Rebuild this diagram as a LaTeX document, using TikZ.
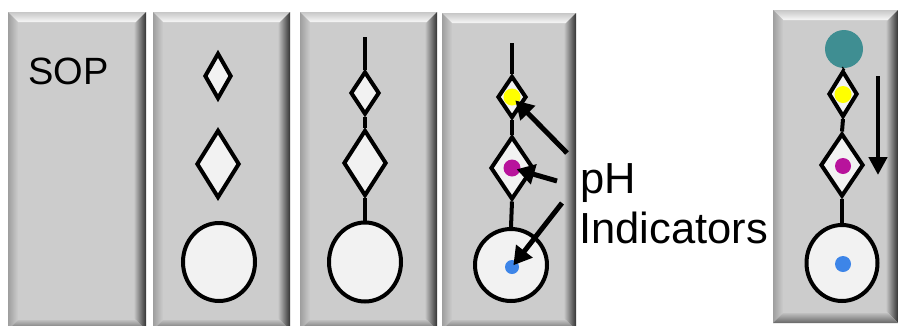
\documentclass[tikz,border=0pt]{standalone}
\usepackage{fontspec}
\setmainfont{Liberation Sans}
\usetikzlibrary{shapes.geometric,arrows.meta}
\definecolor{panelgray}{HTML}{CCCCCC}
\definecolor{shapefill}{HTML}{F2F2F2}
\definecolor{tealc}{HTML}{3F8E92}
\definecolor{magc}{HTML}{B8139C}
\definecolor{bluec}{HTML}{3D85E8}
\definecolor{yelc}{HTML}{FFFF00}
\newcommand\bevpanel[4]{%
  \fill[panelgray] (#1,#2) rectangle (#3,#4);
  \shade[top color=black!22, bottom color=black!3]
    (#1,#2) -- (#3,#2) -- ({#3-10},{#2+10}) -- ({#1+10},{#2+10}) -- cycle;
  \shade[left color=black!38, right color=black!20]
    (#1,#2) -- ({#1+10},{#2+10}) -- ({#1+10},{#4-10}) -- (#1,#4) -- cycle;
  \shade[left color=black!22, right color=black!80]
    (#3,#2) -- ({#3-12},{#2+12}) -- ({#3-12},{#4-12}) -- (#3,#4) -- cycle;
  \shade[top color=black!25, bottom color=black!60]
    (#1,#4) -- ({#1+10},{#4-10}) -- ({#3-10},{#4-10}) -- (#3,#4) -- cycle;
}
\tikzset{
  x=1pt, y=-1pt,
  dia/.style={diamond, draw=black, line width=4pt, fill=shapefill, inner sep=0pt},
  bulb/.style={ellipse, draw=black, line width=4pt, fill=shapefill, inner sep=0pt},
  dot/.style={circle, inner sep=0pt, draw=none},
  link/.style={line width=4pt, black},
  ptr/.style={line width=5pt, black, -{Triangle[length=18pt,width=20pt]}},
  lbl/.style={inner sep=0pt, anchor=base west, text=black}
}
\begin{document}
\begin{tikzpicture}
\useasboundingbox (0,0) rectangle (898,325);
\fill[white] (0,0) rectangle (898,325);
% panels
\bevpanel{8}{12}{146}{330}
\bevpanel{153}{12}{290}{330}
\bevpanel{300}{12}{437}{330}
\bevpanel{442}{13}{576}{330}
\bevpanel{773}{10}{898}{323}

% panel 1
\node[lbl, font=\fontsize{38}{45}\selectfont] (sop) at (28,84) {SOP};

% panel 2
\node[dia, minimum width=27pt, minimum height=46pt] (b1) at (218,76) {};
\node[dia, minimum width=43pt, minimum height=68pt] (b2) at (218,164) {};
\node[bulb, minimum width=72pt, minimum height=78pt] (b3) at (219,262) {};

% panel 3
\coordinate (ct) at (365,37);
\node[dia, minimum width=29pt, minimum height=43pt] (c1) at (365,93) {};
\node[dia, minimum width=43pt, minimum height=66pt] (c2) at (365,163) {};
\node[bulb, minimum width=72pt, minimum height=79pt] (c3) at (365,262) {};
\draw[link] (ct) -- (c1.north);
\draw[link] (c1.south) -- (c2.north);
\draw[link] (c2.south) -- (c3.north);

% panel 4
\coordinate (dt) at (512,43);
\node[dia, minimum width=29pt, minimum height=42pt] (d1) at (512,97) {};
\node[dia, minimum width=43pt, minimum height=63pt] (d2) at (512,168) {};
\node[bulb, minimum width=72pt, minimum height=72pt] (d3) at (511,265) {};
\draw[link] (dt) -- (d1.north);
\draw[link] (d1.south) -- (d2.north);
\draw[link] (d2.south) -- (d3.north);
\node[dot, fill=yelc, minimum size=17pt] (dy) at (512,97) {};
\node[dot, fill=magc, minimum size=17pt] (dm) at (512,168) {};
\node[dot, fill=bluec, minimum size=14pt] (db) at (512,267) {};
\coordinate (ay) at (567,153);
\coordinate (am) at (557,181);
\coordinate (ab) at (562,203);
\draw[ptr, shorten >=-4pt] (ay) -- (dy);
\draw[ptr, shorten >=-4pt] (am) -- (dm);
\draw[ptr, shorten >=-5pt] (ab) -- (db);

% label
\node[lbl, font=\fontsize{43.5}{50}\selectfont] (ph) at (580,193) {pH};
\node[lbl, font=\fontsize{43.5}{50}\selectfont] (ind) at (579,243) {Indicators};

% panel 5
\node[dot, fill=tealc, minimum size=38pt] (et) at (844,49) {};
\node[dia, minimum width=29pt, minimum height=46pt] (e1) at (843,94) {};
\node[dia, minimum width=43pt, minimum height=63pt] (e2) at (842,165) {};
\node[bulb, minimum width=71pt, minimum height=76pt] (e3) at (842,263) {};
\draw[link] (et.south) -- (e1.north);
\draw[link] (e1.south) -- (e2.north);
\draw[link] (e2.south) -- (e3.north);
\node[dot, fill=yelc, minimum size=17pt] (ey) at (843,94.5) {};
\node[dot, fill=magc, minimum size=16pt] (em) at (843,166) {};
\node[dot, fill=bluec, minimum size=16pt] (eb) at (843,264) {};
\coordinate (ft) at (878,76);
\coordinate (fb) at (878,175);
\draw[line width=4.5pt, black, -{Triangle[length=18pt,width=18pt]}] (ft) -- (fb);
\end{tikzpicture}
\end{document}
